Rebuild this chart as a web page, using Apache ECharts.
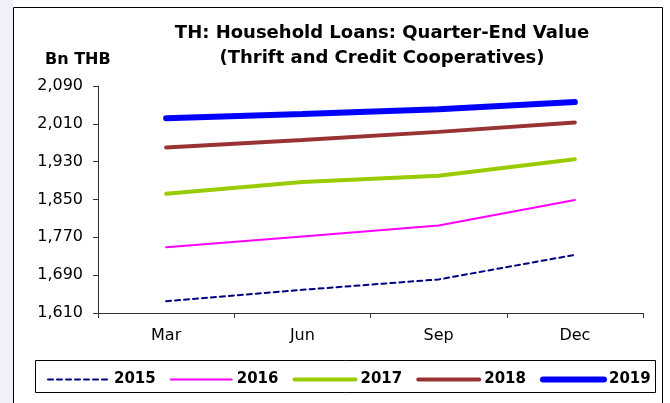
<!DOCTYPE html>
<html>
<head>
<meta charset="utf-8">
<script src="https://cdn.jsdelivr.net/npm/echarts@6/dist/echarts.min.js"></script>
<style>
  html, body { margin: 0; padding: 0; background: #fff; }
  #chart { width: 670px; height: 403px; }
</style>
</head>
<body>
<div id="chart"></div>
<script>
// quarter-end values, Bn THB
const quarters = ['Mar', 'Jun', 'Sep', 'Dec']
const y2015 = [1635, 1659, 1681, 1733]
const y2016 = [1749, 1772, 1795, 1849]
const y2017 = [1862, 1887, 1900, 1935]
const y2018 = [1960, 1976, 1993, 2013]
const y2019 = [2022, 2031, 2041, 2056]
const yearNames = ['2015', '2016', '2017', '2018', '2019']
const lineWidths = [2, 2, 4, 4, 6]

const chart = echarts.init(document.getElementById('chart'))

const font = '"DejaVu Sans", Arial, sans-serif'

function line(name, data, color, width, type) {
  return {
    name: name,
    type: 'line',
    data: data,
    symbol: 'none',
    smooth: false,
    lineStyle: { color: color, width: width, type: type || 'solid', cap: 'round' },
    itemStyle: { color: color }
  }
}

chart.setOption({
  animation: false,
  textStyle: { fontFamily: font },
  title: [
    {
      text: 'TH: Household Loans: Quarter-End Value\n(Thrift and Credit Cooperatives)',
      left: 377,
      top: 16,
      textAlign: 'center',
      textStyle: { fontSize: 18, fontWeight: 'bold', color: '#000', lineHeight: 25, fontFamily: font }
    },
    {
      text: 'Bn THB',
      left: 40,
      top: 47,
      textStyle: { fontSize: 16, fontWeight: 'bold', color: '#000', fontFamily: font }
    }
  ],
  graphic: [
    { type: 'rect', shape: { x: 0, y: 0, width: 13, height: 403 }, style: { fill: '#f0f0f8' }, silent: true },
    { type: 'rect', shape: { x: 13.5, y: 7.5, width: 649, height: 400 }, style: { fill: 'none', stroke: '#000', lineWidth: 1 }, silent: true },
    { type: 'rect', shape: { x: 35.5, y: 360.5, width: 620, height: 32 }, style: { fill: 'none', stroke: '#000', lineWidth: 1 }, silent: true }
  ],
  legend: {
    data: yearNames.map((n, i) => ({ name: n, lineStyle: { width: lineWidths[i] } })),
    left: 42,
    top: 367,
    itemWidth: 61,
    itemHeight: 14,
    itemGap: 14,
    itemStyle: { opacity: 0 },
    textStyle: { fontSize: 15, fontWeight: 'bold', color: '#000', fontFamily: font }
  },
  grid: { left: 98, right: 27, top: 86, bottom: 90, containLabel: false },
  xAxis: {
    type: 'category',
    data: quarters,
    boundaryGap: true,
    axisLine: { lineStyle: { color: '#333', width: 1 } },
    axisTick: { show: true, length: 5, inside: false, lineStyle: { color: '#333' } },
    axisLabel: { fontSize: 16, color: '#000', margin: 15, fontFamily: font }
  },
  yAxis: {
    type: 'value',
    min: 1610,
    max: 2090,
    interval: 80,
    axisLine: { show: true, lineStyle: { color: '#333', width: 1 } },
    axisTick: { show: true, length: 5, lineStyle: { color: '#333' } },
    splitLine: { show: false },
    axisLabel: {
      fontSize: 16,
      color: '#000',
      margin: 15,
      fontFamily: font,
      formatter: v => v.toLocaleString('en-US')
    }
  },
  series: [
    line('2015', y2015, '#000080', 2, [5, 4]),
    line('2016', y2016, '#ff00ff', 2),
    line('2017', y2017, '#99cc00', 4),
    line('2018', y2018, '#993333', 4),
    line('2019', y2019, '#0000ff', 6)
  ]
})
</script>
</body>
</html>
